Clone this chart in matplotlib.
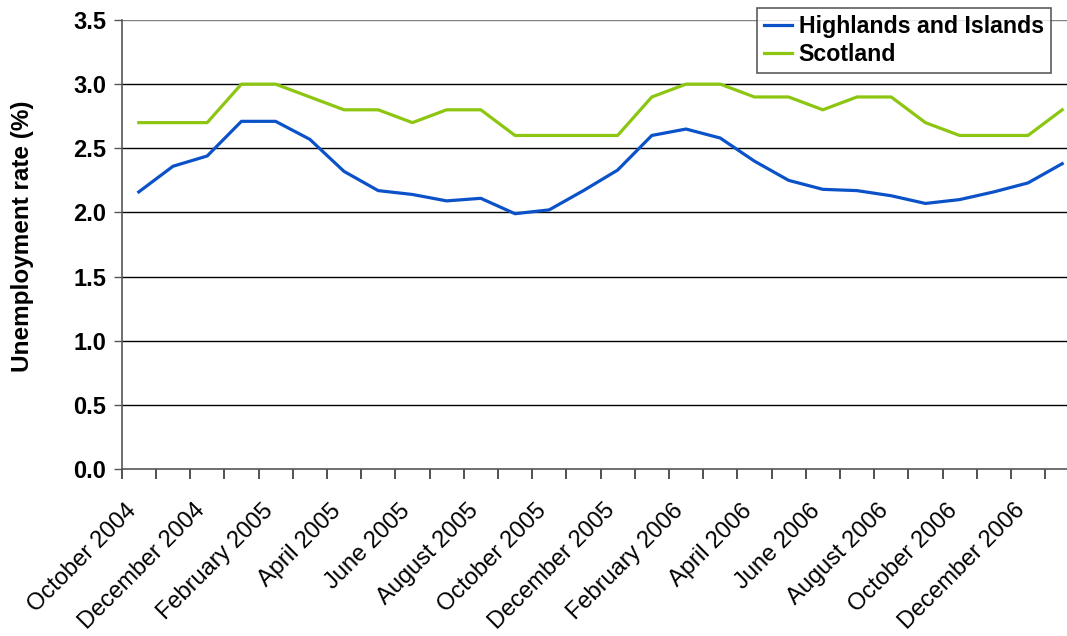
import matplotlib
matplotlib.use("Agg")
import matplotlib.pyplot as plt
import numpy as np

# monthly series, October 2004 to January 2007
months = [
    "October 2004", "November 2004", "December 2004", "January 2005",
    "February 2005", "March 2005", "April 2005", "May 2005",
    "June 2005", "July 2005", "August 2005", "September 2005",
    "October 2005", "November 2005", "December 2005", "January 2006",
    "February 2006", "March 2006", "April 2006", "May 2006",
    "June 2006", "July 2006", "August 2006", "September 2006",
    "October 2006", "November 2006", "December 2006", "January 2007",
]
highlands = [2.16, 2.36, 2.44, 2.71, 2.71, 2.57, 2.32, 2.17, 2.14, 2.09,
             2.11, 1.99, 2.02, 2.17, 2.33, 2.60, 2.65, 2.58, 2.40, 2.25,
             2.18, 2.17, 2.13, 2.07, 2.10, 2.16, 2.23, 2.38]
scotland = [2.7, 2.7, 2.7, 3.0, 3.0, 2.9, 2.8, 2.8, 2.7, 2.8,
            2.8, 2.6, 2.6, 2.6, 2.6, 2.9, 3.0, 3.0, 2.9, 2.9,
            2.8, 2.9, 2.9, 2.7, 2.6, 2.6, 2.6, 2.8]
yticks = [0.0, 0.5, 1.0, 1.5, 2.0, 2.5, 3.0, 3.5]

plt.rcParams['font.family'] = ['Liberation Sans', 'DejaVu Sans']

W, H = 1067, 636
fig = plt.figure(figsize=(W / 100, H / 100), dpi=100)
# plot area runs a little past the right edge of the canvas
x0, y0, y1 = 121.7, 469, 20
step = 34.2
ax = fig.add_axes([x0 / W, 1 - y0 / H, 28 * step / W, (y0 - y1) / H])

x = np.arange(len(months))
ax.plot(x, highlands, color='#0B52C9', lw=2.3, label='Highlands and Islands',
        solid_joinstyle='round')
ax.plot(x, scotland, color='#8CC610', lw=2.3, label='Scotland',
        solid_joinstyle='round')

ax.set_xlim(-0.5, len(months) - 0.5)
ax.set_ylim(0, 3.5)

# horizontal gridlines
for v in yticks[1:]:
    ax.axhline(v, color='#000000' if v < 3.5 else '#808080', lw=1.0, zorder=0)

ax.set_yticks(yticks)
ax.set_yticklabels([f"{v:.1f}" for v in yticks], fontsize=17, fontweight='bold')
ax.tick_params(axis='y', direction='out', length=6, width=1, color='#555555', pad=5)

# tick marks between categories, labels on every second month
ax.set_xticks(np.arange(len(months)) - 0.5)
ax.set_xticklabels([])
ax.tick_params(axis='x', which='major', direction='out', length=7, width=1.2,
               color='#333333')
ax.set_xticks(x[::2] - 0.4, minor=True)
ax.set_xticklabels(months[::2], minor=True, rotation=45, ha='right',
                   va='top', rotation_mode='anchor', fontsize=17)
ax.tick_params(axis='x', which='minor', length=0, pad=22)

for s in ['top', 'right']:
    ax.spines[s].set_visible(False)
ax.spines['left'].set_color('#555555')
ax.spines['bottom'].set_color('#555555')
ax.spines['left'].set_linewidth(1.2)
ax.spines['bottom'].set_linewidth(1.2)

fig.text(23 / W, 1 - 236 / H, "Unemployment rate (%)", rotation=90,
         ha='center', va='center', fontsize=17.5, fontweight='bold')

leg = ax.legend(loc='upper left', bbox_to_anchor=(757 / W, 1 - 8 / H),
                bbox_transform=fig.transFigure, frameon=True, fancybox=False,
                prop={'size': 16.7, 'weight': 'bold'}, handlelength=1.2,
                handletextpad=0.3, labelspacing=0.22, borderpad=0.3,
                borderaxespad=0)
leg.get_frame().set_edgecolor('#333333')
leg.get_frame().set_linewidth(1.2)

fig.savefig("out.png", dpi=100)
